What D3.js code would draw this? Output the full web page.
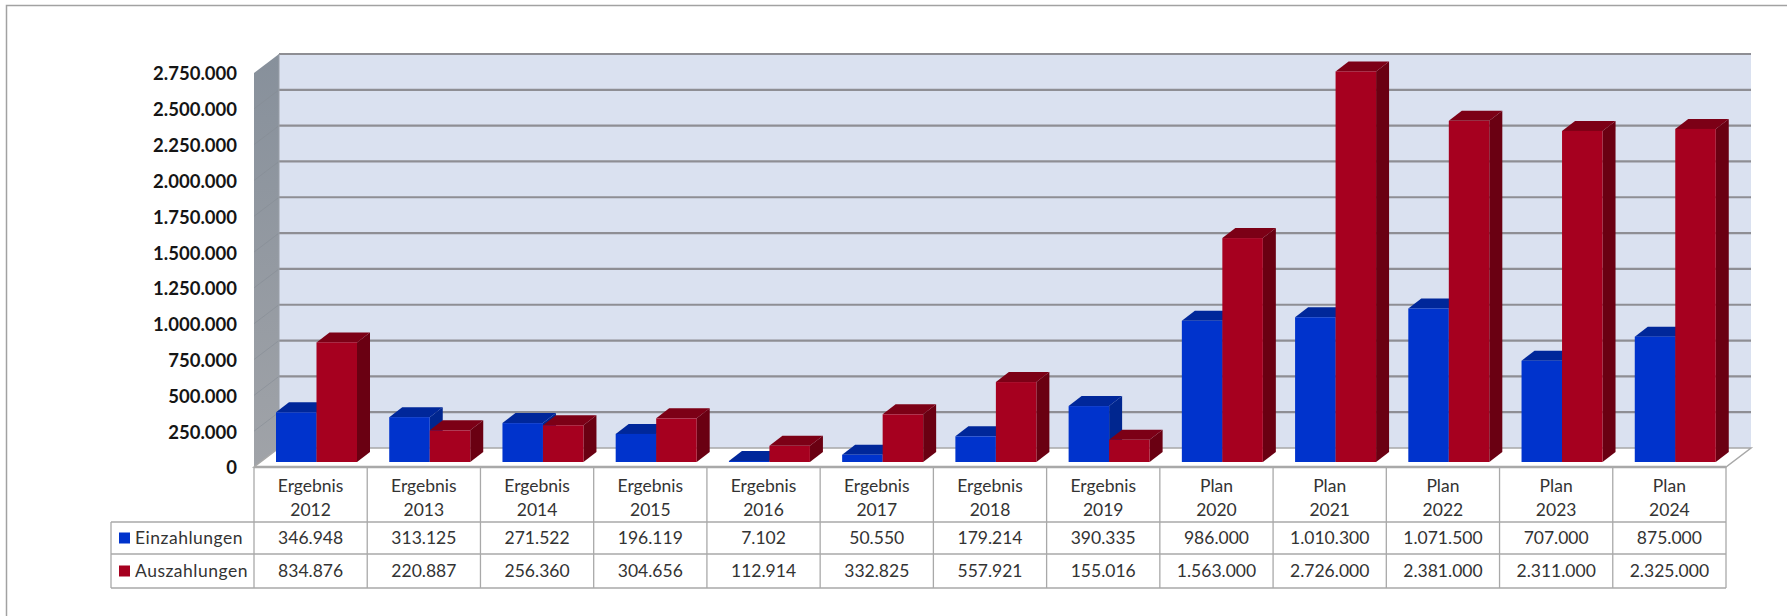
<!DOCTYPE html>
<html>
  <head>
    <meta http-equiv="Content-Type" content="text/html; charset=UTF-8" />
    <title>Einzahlungen / Auszahlungen</title>
    <script src="https://d3js.org/d3.v7.min.js"></script>
    <style>
      html, body { margin: 0; padding: 0; background: #ffffff; }
      svg { display: block; }
      text { font-family: Lato, "Open Sans", sans-serif; }
    </style>
  </head>
  <body>
    <script type="text/javascript">
    // Werte aus dem Bild
    var kinds = ["Ergebnis", "Ergebnis", "Ergebnis", "Ergebnis", "Ergebnis", "Ergebnis", "Ergebnis", "Ergebnis", "Plan", "Plan", "Plan", "Plan", "Plan"];
    var years = ["2012", "2013", "2014", "2015", "2016", "2017", "2018", "2019", "2020", "2021", "2022", "2023", "2024"];
    var einzahlungen = [346948, 313125, 271522, 196119, 7102, 50550, 179214, 390335, 986000, 1010300, 1071500, 707000, 875000];
    var auszahlungen = [834876, 220887, 256360, 304656, 112914, 332825, 557921, 155016, 1563000, 2726000, 2381000, 2311000, 2325000];
    var tickValues = [0, 250000, 500000, 750000, 1000000, 1250000, 1500000, 1750000, 2000000, 2250000, 2500000, 2750000];
    var seriesNames = ["Einzahlungen", "Auszahlungen"];

    var width = 1787, height = 616;
    var plotLeft = 254, plotRight = 1726, plotBottom = 467, plotTop = 73;
    var wallDx = 25, wallDy = 19;   // Tiefe der Wand
    var barDx = 13, barDy = 10;     // Tiefe der Saeulen
    var barBase = 5;                // Saeulen stehen etwas hinter der Vorderkante

    var colors = {
      blue: {front: "#0033cc", side: "#00268f", top: "#00279a"},
      red: {front: "#a6001f", side: "#6a0012", top: "#7c0016"}
    };

    // deutsches Zahlenformat mit Punkt
    var de = d3.formatLocale({decimal: ",", thousands: ".", grouping: [3], currency: ["", " €"]});
    var fmt = de.format(",d");

    var x = d3.scaleBand().domain(years).range([plotLeft, plotRight]);
    var y = d3.scaleLinear().domain([0, 2750000]).range([plotBottom, plotTop]);
    var bar = d3.scaleBand().domain(seriesNames).range([0, 81]);

    var svg = d3.select("body").append("svg")
      .attr("width", width)
      .attr("height", height);

    var defs = svg.append("defs");
    var wallGrad = defs.append("linearGradient").attr("id", "sidewall")
      .attr("x1", 0).attr("y1", 0).attr("x2", 0).attr("y2", 1);
    wallGrad.append("stop").attr("offset", "0%").attr("stop-color", "#87909b");
    wallGrad.append("stop").attr("offset", "100%").attr("stop-color", "#a0a3a8");

    // Rahmen oben und links
    svg.append("path")
      .attr("d", "M6.5," + height + "V5.5H" + width)
      .attr("fill", "none")
      .attr("stroke", "#a2a2a2")
      .attr("stroke-width", 1.5);

    // Rueckwand
    svg.append("rect")
      .attr("x", plotLeft + wallDx)
      .attr("y", y(2750000) - wallDy)
      .attr("width", plotRight - plotLeft)
      .attr("height", plotBottom - plotTop)
      .attr("fill", "#dae1f0");

    // linke Wand
    svg.append("polygon")
      .attr("points", [[plotLeft, plotTop], [plotLeft + wallDx, plotTop - wallDy], [plotLeft + wallDx, plotBottom - wallDy], [plotLeft, plotBottom]].join(" "))
      .attr("fill", "url(#sidewall)");

    // Boden
    svg.append("polygon")
      .attr("points", [[plotLeft, plotBottom], [plotLeft + wallDx, plotBottom - wallDy], [plotRight + wallDx, plotBottom - wallDy], [plotRight, plotBottom]].join(" "))
      .attr("fill", "#ffffff")
      .attr("stroke", "#a8a8a8")
      .attr("stroke-width", 1.5);

    // Gitterlinien auf Rueck- und Seitenwand
    svg.append("g").selectAll("line").data(tickValues.slice(1)).enter().append("line")
      .attr("x1", plotLeft + wallDx)
      .attr("x2", plotRight + wallDx)
      .attr("y1", function(d) { return y(d) - wallDy; })
      .attr("y2", function(d) { return y(d) - wallDy; })
      .attr("stroke", "#8e8e94")
      .attr("stroke-width", 2.2);

    svg.append("g").selectAll("line").data(tickValues.slice(1, -1)).enter().append("line")
      .attr("x1", plotLeft)
      .attr("x2", plotLeft + wallDx)
      .attr("y1", function(d) { return y(d); })
      .attr("y2", function(d) { return y(d) - wallDy; })
      .attr("stroke", "#858c95")
      .attr("stroke-opacity", 0.6)
      .attr("stroke-width", 1);

    svg.append("line")
      .attr("x1", plotLeft + wallDx).attr("x2", plotLeft + wallDx)
      .attr("y1", y(2750000) - wallDy).attr("y2", plotBottom - wallDy)
      .attr("stroke", "#9aa0a8");

    // y-Achse
    var yAxis = d3.axisLeft(y).tickValues(tickValues).tickFormat(fmt).tickSize(0).tickPadding(17);
    var yG = svg.append("g").attr("transform", "translate(" + plotLeft + ",1)").call(yAxis);
    yG.select(".domain").remove();
    yG.selectAll("text")
      .attr("font-size", 18.5)
      .attr("font-weight", 700)
      .attr("fill", "#151515")
      .style("font-family", "Lato, sans-serif");

    // Saeule als Quader
    function drawBar(g, xPos, value, w, c) {
      var yTop = y(value) - barBase;
      var yBot = plotBottom - barBase;
      g.append("polygon")
        .attr("points", [[xPos + w, yTop], [xPos + w + barDx, yTop - barDy], [xPos + w + barDx, yBot - barDy], [xPos + w, yBot]].join(" "))
        .attr("fill", c.side);
      g.append("polygon")
        .attr("points", [[xPos, yTop], [xPos + barDx, yTop - barDy], [xPos + w + barDx, yTop - barDy], [xPos + w, yTop]].join(" "))
        .attr("fill", c.top);
      g.append("rect")
        .attr("x", xPos)
        .attr("y", yTop)
        .attr("width", w)
        .attr("height", yBot - yTop)
        .attr("fill", c.front);
    }

    var barsG = svg.append("g");
    for (var i = 0; i < years.length; i++) {
      var x0 = x(years[i]) + 22;
      var g = barsG.append("g");
      drawBar(g, x0 + bar(seriesNames[0]), einzahlungen[i], bar.bandwidth(), colors.blue);
      drawBar(g, x0 + bar(seriesNames[1]), auszahlungen[i], bar.bandwidth(), colors.red);
    }

    // Datentabelle
    var rowTop = plotBottom, rowHead = 522, rowA = 554, rowB = 588, legendLeft = 111;
    var table = svg.append("g").attr("stroke", "#a9a9a9").attr("stroke-width", 1.3);
    table.append("line").attr("x1", plotLeft).attr("x2", plotRight).attr("y1", rowTop).attr("y2", rowTop).attr("stroke-width", 2.5);
    [rowHead, rowA, rowB].forEach(function(r) {
      table.append("line").attr("x1", legendLeft).attr("x2", plotRight).attr("y1", r).attr("y2", r);
    });
    x.domain().concat(["end"]).forEach(function(d) {
      var px = d === "end" ? plotRight : x(d);
      table.append("line").attr("x1", px).attr("x2", px).attr("y1", rowTop).attr("y2", rowB);
    });
    table.append("line").attr("x1", legendLeft).attr("x2", legendLeft).attr("y1", rowHead).attr("y2", rowB);

    var cells = svg.append("g")
      .attr("text-anchor", "middle")
      .attr("font-size", 17.5)
      .attr("fill", "#333333");

    years.forEach(function(yr, i) {
      var cx = x(yr) + x.bandwidth() / 2;
      cells.append("text").attr("x", cx).attr("y", 492).text(kinds[i]);
      cells.append("text").attr("x", cx).attr("y", 516).text(yr);
      cells.append("text").attr("x", cx).attr("y", 544).text(fmt(einzahlungen[i]));
      cells.append("text").attr("x", cx).attr("y", 577).text(fmt(auszahlungen[i]));
    });

    // Legende in der Tabelle
    var legendY = [538, 571];
    var legendColors = [colors.blue.front, colors.red.front];
    seriesNames.forEach(function(name, i) {
      svg.append("rect")
        .attr("x", 119)
        .attr("y", legendY[i] - 5.5)
        .attr("width", 11)
        .attr("height", 11)
        .attr("fill", legendColors[i]);
      svg.append("text")
        .attr("x", 135)
        .attr("y", legendY[i] + 6)
        .attr("font-size", 17.5)
        .attr("letter-spacing", 0.5)
        .attr("fill", "#333333")
        .text(name);
    });
    </script>
  </body>
</html>
